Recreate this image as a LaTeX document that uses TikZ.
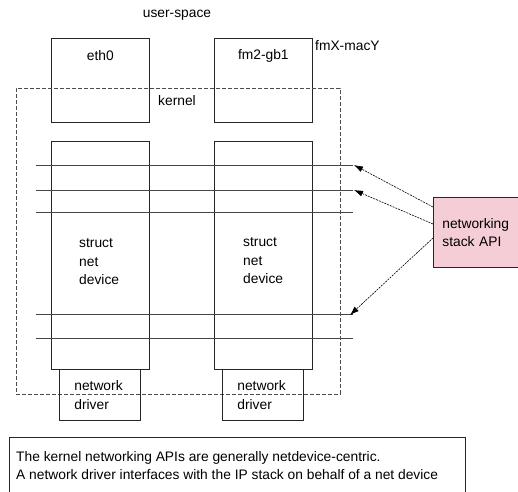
\documentclass[tikz,border=0pt]{standalone}
\usepackage{fontspec}
\setmainfont{Liberation Sans}
\usetikzlibrary{positioning,arrows.meta}
\definecolor{apipink}{RGB}{244,205,214}
\definecolor{linegray}{RGB}{70,70,70}

\begin{document}
\begin{tikzpicture}[>={Latex[length=9pt,width=6pt]},x=1pt,y=-1pt,
    font=\fontsize{13.8}{18.5}\selectfont,
    box/.style={draw=black!85,line width=0.7pt,inner sep=0pt,anchor=north west},
    txt/.style={align=left,inner sep=0pt,anchor=west},
    hline/.style={draw=linegray,line width=0.7pt},
    apiarrow/.style={->,dash pattern=on 2pt off 1pt,line width=0.6pt}]
        \useasboundingbox (0,0) rectangle (518,491);
        % user-space side
        \node[box,minimum width=98pt,minimum height=84pt,label={[anchor=north,inner sep=0pt,yshift=-12pt]north:eth0}] (eth0) at (51,38) {};
        \node[box,minimum width=98pt,minimum height=84pt,label={[anchor=north,inner sep=0pt,yshift=-11pt]north:fm2-gb1}] (fm) at (214,38) {};
        \node (userspace) at (177,15) {user-space};
        \node[txt] (fmxmacy) at (315,46) {fmX-macY};
        % kernel
        \node[box,draw=black!70,dash pattern=on 4pt off 2pt,minimum width=324pt,minimum height=306pt] (kernel) at (16,88) {};
        \node (kernellabel) at (177,101) {kernel};
        \node[box,minimum width=98pt,minimum height=228pt] (dev1) at (51,141) {};
        \node[box,minimum width=98pt,minimum height=228pt] (dev2) at (214,141) {};
        \node[txt] (dev1text) at (79,262) {struct\\net\\device};
        \node[txt] (dev2text) at (243,261) {struct\\net\\device};
        \node[box,minimum width=81pt,minimum height=51pt,align=left,text width=51pt,inner xsep=15pt] (drv1) at (59,369) {network\\driver};
        \node[box,minimum width=81pt,minimum height=51pt,align=left,text width=51pt,inner xsep=15pt] (drv2) at (222,369) {network\\driver};
        \foreach \i/\y in {1/165,2/190,3/212,4/314,5/338} {
            \coordinate (h\i w) at (36,\y);
            \coordinate (h\i e) at (353,\y);
            \draw[hline] (h\i w) -- (h\i e);
        }
        % networking stack API
        \node[box,fill=apipink,minimum width=90pt,minimum height=70pt,align=left,text width=72pt,inner xsep=9pt] (api) at (433,197) {networking\\stack API};
        \draw[apiarrow] ([yshift=-10pt]api.north west) -- ([xshift=1pt]h1e);
        \draw[apiarrow] ([yshift=-27pt]api.north west) -- ([xshift=1pt]h2e);
        \draw[apiarrow] ([yshift=-41pt]api.north west) -- ([xshift=-3pt,yshift=-1pt]h4e);
        % note
        \node[box,minimum width=456pt,minimum height=62pt] (note) at (9,437) {};
        \node[txt] (notetext) at (16,465.5) {The kernel networking APIs are generally netdevice-centric.\\A network driver interfaces with the IP stack on behalf of a net device};
    \end{tikzpicture}
\end{document}
